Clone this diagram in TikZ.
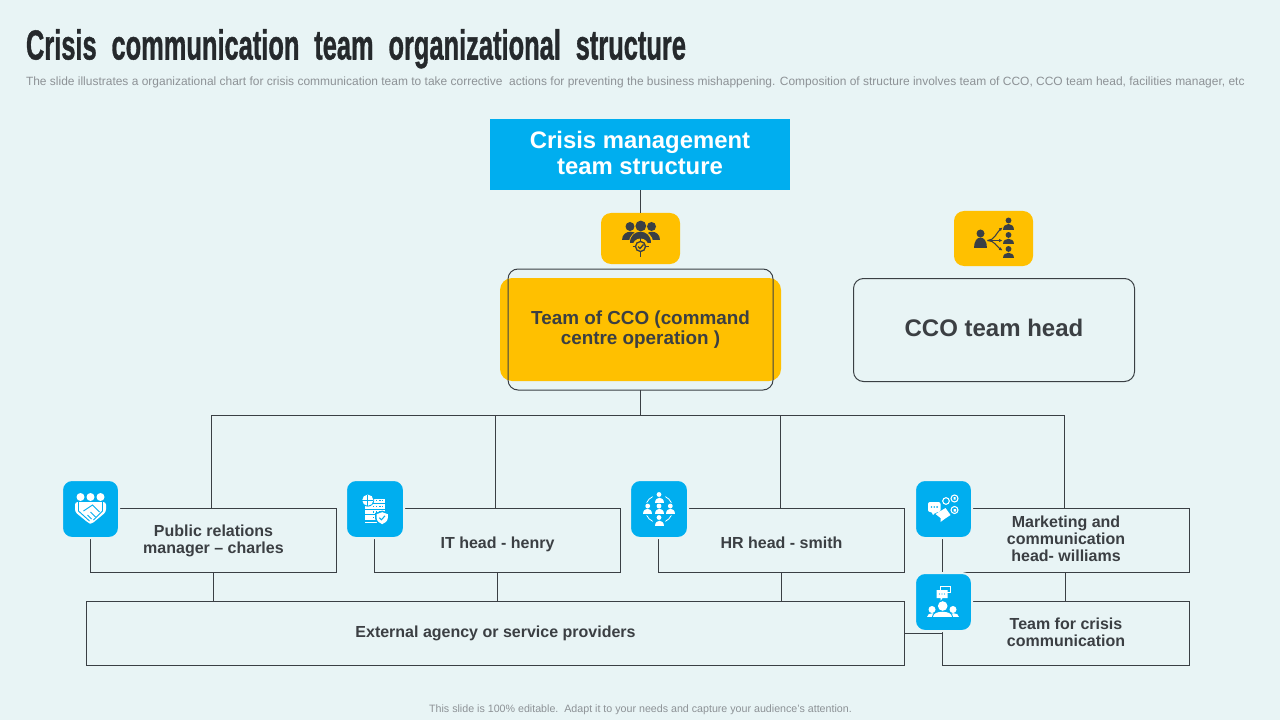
\documentclass[tikz,border=0pt]{standalone}
\usepackage{graphicx}
\usepackage{fontspec}
\setmainfont{Liberation Sans}
\newfontfamily\titlefont[WordSpace=2.1,BoldFeatures={FakeBold=1.2}]{Liberation Sans}
\usetikzlibrary{calc,arrows.meta}
\definecolor{pagebg}{HTML}{E8F4F5}
\definecolor{skyblue}{HTML}{00AEEF}
\definecolor{amber}{HTML}{FFC000}
\definecolor{inkdark}{HTML}{3A3F44}
\definecolor{titleink}{HTML}{25292C}
\definecolor{bodytext}{HTML}{3B3F43}
\definecolor{softgrey}{HTML}{8D9296}
% person glyph: x, head y, head radius, half width, body top, body bottom, colour
\newcommand{\persx}[7]{%
  \pgfmathsetmacro\psxctrl{(#5)-0.33*((#6)-(#5))}%
  \pgfmathsetmacro\psxleft{(#1)-(#4)}%
  \pgfmathsetmacro\psxright{(#1)+(#4)}%
  \pgfmathsetmacro\psxbase{#6}%
  \pgfmathsetmacro\psxmid{#1}%
  \pgfmathsetmacro\psxhead{#2}%
  \pgfmathsetmacro\psxrad{#3}%
  \fill[#7] (\psxmid,\psxhead) circle[radius=\psxrad];
  \fill[#7] (\psxleft,\psxbase) .. controls (\psxleft,\psxctrl) and (\psxright,\psxctrl) .. (\psxright,\psxbase) -- cycle;}
\newcommand{\pers}[4]{\persx{#1}{#2-0.7*#3}{0.45*#3}{0.85*#3}{#2-0.15*#3}{#2+0.75*#3}{#4}}
% text lines moved up by #1 inside their node
\newcommand{\lifted}[2]{\raisebox{0pt}[\dimexpr\height-#1\relax][\dimexpr\depth+#1\relax]{\begin{tabular}{@{}c@{}}#2\end{tabular}}}
\tikzset{
  x=0.75pt,y=-0.75pt,
  sz/.style 2 args={minimum width=#1*0.75pt,minimum height=#2*0.75pt},
  every node/.style={inner sep=0pt,outer sep=0pt,align=center},
  wire/.style={draw=inkdark,line width=0.75pt},
  headerbox/.style={fill=skyblue,text=white,font=\bfseries\fontsize{17.9}{19.6}\selectfont},
  orgbox/.style={draw=inkdark,line width=0.75pt,text=bodytext,font=\bfseries\fontsize{12}{12.8}\selectfont},
  ambertile/.style={fill=amber,rounded corners=7.5pt},
  bluetile/.style={fill=skyblue,draw=pagebg,line width=1.5pt,rounded corners=7.5pt},
  glypharrow/.style={inkdark,line width=0.8pt,-{Latex[length=2.6pt,width=2.6pt]}},
}
\begin{document}
\begin{tikzpicture}
\fill[pagebg,use as bounding box] (0,0) rectangle (1280,720);
% heading
\node[anchor=base west,text=titleink] (title) at (26,59.5) {\resizebox{495pt}{22.8pt}{\titlefont\bfseries Crisis communication team organizational structure}};
\node[anchor=base west,text=softgrey] (subtitle) at (26,86) {\resizebox{914pt}{!}{\fontsize{9}{10}\selectfont The slide illustrates a organizational chart for crisis communication team to take corrective\ \ actions for preventing the business mishappening. Composition of structure involves team of CCO, CCO team head, facilities manager, etc}};
\node[anchor=base,text=softgrey] (footer) at (640.5,712) {\resizebox{317pt}{!}{\fontsize{8}{10}\selectfont This slide is 100\% editable.\ \ Adapt it to your needs and capture your audience's attention.}};
% top
\node[headerbox,sz={300}{71}] (head) at (640,154.5) {\lifted{-1.5pt}{Crisis management\\team structure}};
\node[ambertile,sz={79}{51}] (iconA) at (640.5,238.5) {};
\draw[wire] (head.south) -- (head.south |- iconA.north);
% CCO
\node[ambertile,rounded corners=9pt,sz={281}{103},text=bodytext,font=\bfseries\fontsize{14.15}{15.2}\selectfont] (cco) at (640.5,329.5) {\lifted{-0.75pt}{Team of CCO (command\\centre operation )}};
\node[draw=inkdark,line width=0.75pt,rounded corners=7.5pt,sz={265}{121}] (ccoframe) at (640.5,329.5) {};
\node[ambertile,sz={79}{55}] (iconB) at (993.5,238.5) {};
\node[draw=inkdark,line width=0.75pt,rounded corners=7.5pt,sz={281}{103},text=bodytext,font=\bfseries\fontsize{18}{20}\selectfont] (ccohead) at (994,330) {\lifted{-0.5pt}{CCO team head}};
% boxes
\node[orgbox,sz={246}{64}] (pr) at (213.5,540.5) {\lifted{-0.75pt}{Public relations\\manager – charles}};
\node[orgbox,sz={246}{64}] (it) at (497.5,540.5) {\lifted{-3.5pt}{IT head - henry}};
\node[orgbox,sz={246}{64}] (hr) at (781.5,540.5) {\lifted{-3.5pt}{HR head - smith}};
\node[orgbox,sz={247}{64}] (mk) at (1066,540.5) {\lifted{-0.75pt}{Marketing and\\communication\\head- williams}};
\node[orgbox,sz={818}{64}] (ext) at (495.5,633.5) {\lifted{-0.25pt}{External agency or service providers}};
\node[orgbox,sz={247}{64}] (crisis) at (1066,633.5) {\lifted{-0.7pt}{Team for crisis\\communication}};
% bus
\coordinate (busstem) at ($(ccoframe.south)+(0,25)$);
\coordinate (busL) at (211,415);
\coordinate (busA) at (495,415);
\coordinate (busB) at (780,415);
\coordinate (busR) at (1064,415);
\draw[wire] (ccoframe.south) -- (busstem);
\draw[wire] (busL) -- (busR);
\draw[wire] (busL) -- (busL |- pr.north);
\draw[wire] (busA) -- (busA |- it.north);
\draw[wire] (busB) -- (busB |- hr.north);
\draw[wire] (busR) -- (busR |- mk.north);
\draw[wire] (pr.south) -- (pr.south |- ext.north);
\draw[wire] (it.south) -- (it.south |- ext.north);
\draw[wire] (hr.south) -- (hr.south |- ext.north);
\draw[wire] ($(mk.south)+(-1,0)$) -- ($(crisis.north)+(-1,0)$);
\draw[wire] (ext.east) -- (crisis.west);
% blue tiles
\node[bluetile,sz={57}{58}] (iconC) at (90.5,509) {};
\node[bluetile,sz={58}{58}] (iconD) at (375,509) {};
\node[bluetile,sz={58}{58}] (iconE) at (659,509) {};
\node[bluetile,sz={57}{58}] (iconF) at (943.5,509) {};
\node[bluetile,sz={57}{58}] (iconG) at (943.5,602) {};
% icon A: team with target
\begin{scope}[shift={(iconA.center)}]
  \persx{-10.5}{-12}{4.5}{8.5}{-7}{2}{inkdark}
  \persx{11}{-12}{4.5}{8}{-7}{2}{inkdark}
  \fill[amber] (0.3,-12.5) circle[radius=6.2];
  \fill[amber] (-11.5,5) .. controls (-11.5,-11) and (12,-11) .. (12,5) -- cycle;
  \persx{0.3}{-12.5}{5.4}{10.5}{-6.5}{5}{inkdark}
  \fill[amber] (0,8) circle[radius=8];
  \draw[inkdark,line width=1pt] (0,8) circle[radius=5];
  \draw[inkdark,line width=1pt] (-8,8) -- (-5,8) (5,8) -- (8,8) (0,0) -- (0,3) (0,13) -- (0,18.5);
  \draw[inkdark,line width=1pt] (-2.5,8) -- (-0.5,10) -- (3,6);
\end{scope}
% icon B: person to three people
\begin{scope}[shift={(iconB.center)}]
  \persx{-13}{-5}{4}{6.5}{-1}{9}{inkdark}
  \pers{15}{-13.5}{6.5}{inkdark}
  \pers{15}{1}{6.5}{inkdark}
  \pers{15}{15}{6.5}{inkdark}
  \draw[glypharrow] (-6,2) .. controls (1,2) and (3,-6) .. (9,-11);
  \draw[glypharrow] (-6,2) -- (9,2);
  \draw[glypharrow] (-6,2) .. controls (1,2) and (3,8) .. (9,12);
\end{scope}
% icon C: handshake
\begin{scope}[shift={(iconC.center)}]
  \foreach \dx in {-10,0,10} {\fill[white] (\dx,-12) circle[radius=4];}
  \fill[white,rounded corners=2pt] (-15.5,-7) -- (15.5,-7) -- (15.5,3) -- (1,15) -- (-2,14) -- (-15.5,3) -- cycle;
  \draw[skyblue,line width=0.7pt] (-12,-7) -- (-12,2) -- (-1,12) (12,-7) -- (12,2) -- (3,11);
  \draw[skyblue,line width=0.7pt] (-7,2) -- (2,-4) -- (9,3) (-3,6) -- (1,10) (0,3) -- (5,8);
\end{scope}
% icon D: server, globe and shield
\begin{scope}[shift={(iconD.center)},scale=0.8]
  \foreach \yy in {-13,-6,1,8} {\fill[white] (-12,\yy) rectangle (13,\yy+5.5);
    \foreach \xx in {-3,1,5,8.5} {\fill[skyblue] (\xx,\yy+2) rectangle (\xx+2,\yy+3.5);}}
  \fill[white] (-12,16) rectangle (8,17.5);
  \fill[skyblue] (-9,-11) circle[radius=8];
  \fill[white] (-9,-11) circle[radius=7];
  \draw[skyblue,line width=0.5pt] (-16,-11) -- (-2,-11) (-9,-18) -- (-9,-4);
  \fill[skyblue] (9,2) -- (18,5) -- (18,11) .. controls (18,16) and (13,20) .. (9,21) .. controls (5,20) and (0,16) .. (0,11) -- (0,5) -- cycle;
  \fill[white] (9,4) -- (16,6.5) -- (16,11) .. controls (16,15) and (12,18) .. (9,19) .. controls (6,18) and (2,15) .. (2,11) -- (2,6.5) -- cycle;
  \draw[skyblue,line width=0.8pt] (5.5,11) -- (8,13.5) -- (12.5,8.5);
\end{scope}
% icon E: people network
\begin{scope}[shift={(iconE.center)}]
  \draw[white,line width=0.6pt] (0,0) circle[radius=14];
  \fill[skyblue] (0,-12) circle[radius=6.5] (0,12) circle[radius=6.5] (-12,0) circle[radius=6.5] (12,0) circle[radius=6.5];
  \persx{0}{-14.5}{2.4}{4.5}{-11.5}{-6.5}{white}
  \persx{0}{-3}{2.4}{4.5}{0}{5}{white}
  \persx{0}{8.5}{2.4}{4.5}{11.5}{16.5}{white}
  \persx{-11.3}{-3}{2.4}{4.5}{0}{5}{white}
  \persx{11.3}{-3}{2.4}{4.5}{0}{5}{white}
\end{scope}
% icon F: chat and charts
\begin{scope}[shift={(iconF.center)}]
  \fill[white,rounded corners=1.5pt] (-15.5,-7) -- (-3,-7) -- (-3,3) -- (-8,3) -- (-11,7) -- (-11,3) -- (-15.5,3) -- cycle;
  \foreach \dx in {-12,-9.2,-6.4} {\fill[skyblue] (\dx,-2) circle[radius=0.9];}
  \fill[white] (2,-1) -- (-8,5) -- (-3,9) -- (-3,13) -- (1,10) -- (7,6) -- cycle;
  \draw[white,line width=0.8pt] (2.5,-8) circle[radius=3.3];
  \draw[white,line width=0.8pt] (11,-10.5) circle[radius=3.5];
  \draw[white,line width=0.8pt] (11,1) circle[radius=3.5];
  \fill[white] (10,-9.5) rectangle (12,-12) (10,2.5) rectangle (12.5,0);
\end{scope}
% icon G: team and chat
\begin{scope}[shift={(iconG.center)}]
  \draw[white,line width=0.7pt] (-3,-16) rectangle (6.5,-10);
  \fill[white] (-7,-12) -- (4,-12) -- (4,-4) -- (-1,-4) -- (-3,-1) -- (-3,-4) -- (-7,-4) -- cycle;
  \foreach \dx in {-4,-1.5,1} {\fill[skyblue] (\dx,-8) circle[radius=0.7];}
  \persx{-11.5}{7.5}{3.5}{5.5}{11}{15}{white}
  \persx{9.5}{7.5}{3.5}{5.5}{11}{15}{white}
  \persx{-0.8}{4}{5.8}{10.5}{8.5}{15}{skyblue}
  \persx{-0.8}{4}{4.8}{9.5}{9.5}{15}{white}
\end{scope}
\end{tikzpicture}
\end{document}
